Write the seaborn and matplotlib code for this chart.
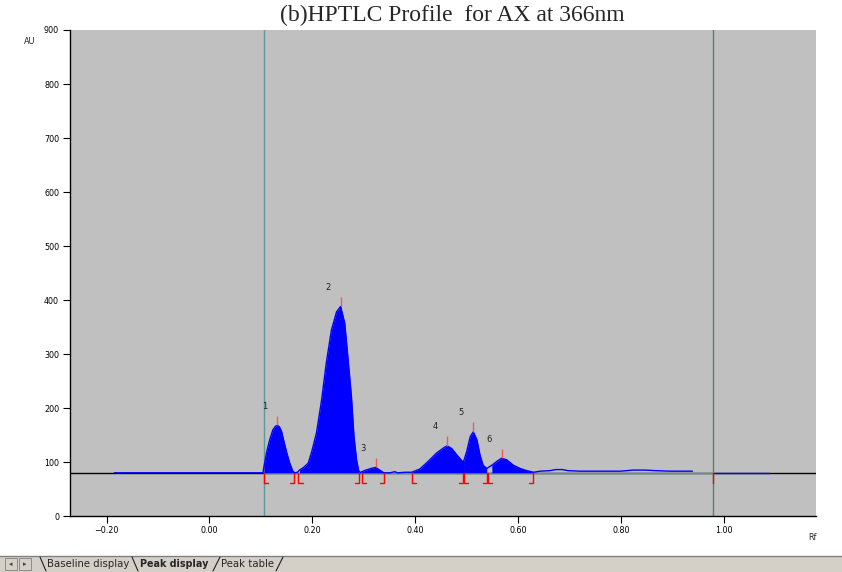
import numpy as np
import pandas as pd
import matplotlib.pyplot as plt
import seaborn as sns
from matplotlib.lines import Line2D
from matplotlib.patches import Rectangle

# ## densitogram trace (Rf, AU)
trace_rf = [-0.185, 0.103, 0.104, 0.106, 0.111, 0.117, 0.123, 0.128, 0.132, 0.136, 0.140,
            0.144, 0.150, 0.156, 0.162, 0.166, 0.171, 0.175, 0.183, 0.192, 0.199, 0.208,
            0.218, 0.227, 0.237, 0.247, 0.255, 0.263, 0.269, 0.276, 0.281, 0.286, 0.290,
            0.294, 0.296, 0.304, 0.314, 0.323, 0.331, 0.339, 0.351, 0.360, 0.366, 0.380,
            0.393, 0.409, 0.425, 0.442, 0.455, 0.462, 0.471, 0.481, 0.491, 0.494, 0.500,
            0.507, 0.513, 0.520, 0.526, 0.532, 0.539, 0.549, 0.560, 0.568, 0.578, 0.591,
            0.604, 0.617, 0.630, 0.643, 0.662, 0.674, 0.686, 0.697, 0.721, 0.760, 0.799,
            0.824, 0.847, 0.867, 0.896, 0.939,
            0.980, 1.087]
trace_au = [80, 80, 80, 92, 118, 141, 159, 166, 168, 165, 157,
            141, 118, 98, 83, 80, 81, 85, 90, 98, 120, 154,
            215, 283, 344, 378, 388, 357, 295, 221, 147, 104, 84,
            80, 82, 85, 88, 90, 85, 80, 80, 82, 80, 81,
            81, 87, 101, 117, 126, 130, 125, 113, 102, 101, 119,
            147, 156, 141, 113, 94, 88, 94, 102, 107, 104, 94,
            88, 84, 81, 83, 84, 86, 86, 84, 83, 83, 83,
            85, 85, 84, 83, 83,
            80, 80]
trace_seg = [0] * 82 + [1, 1]

baseline_au = 80
peak_no = ['1', '2', '3', '4', '5', '6']
peak_rf = [0.132, 0.255, 0.323, 0.462, 0.513, 0.568]
peak_au = [168, 388, 90, 130, 156, 107]
peak_start = [0.106, 0.173, 0.296, 0.393, 0.495, 0.541]
peak_end = [0.165, 0.291, 0.339, 0.493, 0.539, 0.629]
scan_start, scan_end = 0.106, 0.979

x_ticks = [-0.2, 0.0, 0.2, 0.4, 0.6, 0.8, 1.0]
y_ticks = list(range(0, 1000, 100))

tabs = ['Baseline display', 'Peak display', 'Peak table']

df = pd.DataFrame({'rf': trace_rf, 'au': trace_au, 'seg': trace_seg})

sns.set_style('ticks', {'axes.facecolor': '#c0c0c0'})
plt.rcParams['font.family'] = ['DejaVu Sans']

W, H = 842, 572
fig = plt.figure(figsize=(W / 100, H / 100), dpi=100)
ax = fig.add_axes([69.5 / W, 1 - 516 / H, (816 - 69.5) / W, 486 / H])

# baseline and scan window
ax.axhline(baseline_au, color='black', lw=1, zorder=1)
ax.plot([scan_start, scan_end], [baseline_au, baseline_au], color='#5f9292', lw=1, zorder=2)
ax.axvline(scan_start, color='#5f9a9a', lw=1, zorder=2)
ax.axvline(scan_end, color='#5a7a7a', lw=1, zorder=2)

# filled peaks
for s, e in zip(peak_start, peak_end):
    part = df[(df.rf >= s - 0.001) & (df.rf <= e + 0.002)]
    ax.fill_between(part.rf, baseline_au, part.au, color='#0000ff', lw=0, zorder=3)

sns.lineplot(data=df, x='rf', y='au', units='seg', estimator=None, color='#0000ff',
             lw=1, ax=ax, zorder=4, legend=False)

# peak markers
ax.vlines(peak_rf, peak_au, [a + 18 for a in peak_au], color='#f05a5a', lw=1, zorder=5)
for s in peak_start:
    ax.plot([s, s, s + 0.008], [baseline_au, 62, 62], color='#ff0000', lw=1, zorder=5)
for e in peak_end:
    ax.plot([e, e, e - 0.008], [baseline_au, 62, 62], color='#ff0000', lw=1, zorder=5)
ax.plot([scan_end, scan_end], [baseline_au, 62], color='#ff0000', lw=1, zorder=5)
for n, r, a in zip(peak_no, peak_rf, peak_au):
    ax.text(r - 0.024, a + 35, n, fontsize=6, ha='center', va='center', color='#202020')

ax.set_xlim(-0.2722, 1.1793)
ax.set_ylim(0, 900)
ax.set_xticks(x_ticks)
ax.set_xticklabels([f'{t:.2f}'.replace('-', '\u2212') for t in x_ticks])
ax.set_yticks(y_ticks)
ax.tick_params(labelsize=5.8, length=5, width=0.8, pad=2.5, colors='black')
ax.set_xlabel('')
ax.set_ylabel('')
for sp in ['top', 'right']:
    ax.spines[sp].set_visible(False)
for sp in ['left', 'bottom']:
    ax.spines[sp].set_color('black')
    ax.spines[sp].set_linewidth(1)

fig.text(30 / W, 1 - 42 / H, 'AU', fontsize=5.8, ha='center', va='center')
fig.text(812 / W, 1 - 538 / H, 'Rf', fontsize=5.8, ha='center', va='center')

# title at the top edge
fig.text(452 / W, 1 - 21 / H, '(b)HPTLC Profile  for AX at 366nm', fontsize=17,
         family=['Liberation Serif'], ha='center', va='baseline')

# tab bar at the bottom
fig.patches.append(Rectangle((0, 0), 1, 16 / H, transform=fig.transFigure,
                             facecolor='#d4d0c8', edgecolor='none', zorder=0))
fig.lines.append(Line2D([0, 1], [16 / H, 16 / H], transform=fig.transFigure,
                        color='#808080', lw=1))
for x0 in [5, 19]:
    fig.patches.append(Rectangle((x0 / W, 2 / H), 12 / W, 12 / H, transform=fig.transFigure,
                                 facecolor='#d4d0c8', edgecolor='#808080', lw=0.6))
fig.text(11 / W, 8 / H, '\u25c2', fontsize=5, ha='center', va='center', color='#404040')
fig.text(25 / W, 8 / H, '\u25b8', fontsize=5, ha='center', va='center', color='#404040')
for xa, xb in [(40, 46), (132, 138)]:
    fig.lines.append(Line2D([xa / W, xb / W], [15 / H, 1 / H], transform=fig.transFigure,
                            color='#202020', lw=0.8))
for xa, xb in [(213, 220), (276, 283)]:
    fig.lines.append(Line2D([xa / W, xb / W], [1 / H, 15 / H], transform=fig.transFigure,
                            color='#202020', lw=0.8))
fig.text(47 / W, 8 / H, tabs[0], fontsize=7.3, ha='left', va='center')
fig.text(140 / W, 8 / H, tabs[1], fontsize=6.9, weight='bold', ha='left', va='center')
fig.text(221 / W, 8 / H, tabs[2], fontsize=7.3, ha='left', va='center')

fig.savefig('out.png', dpi=100)
